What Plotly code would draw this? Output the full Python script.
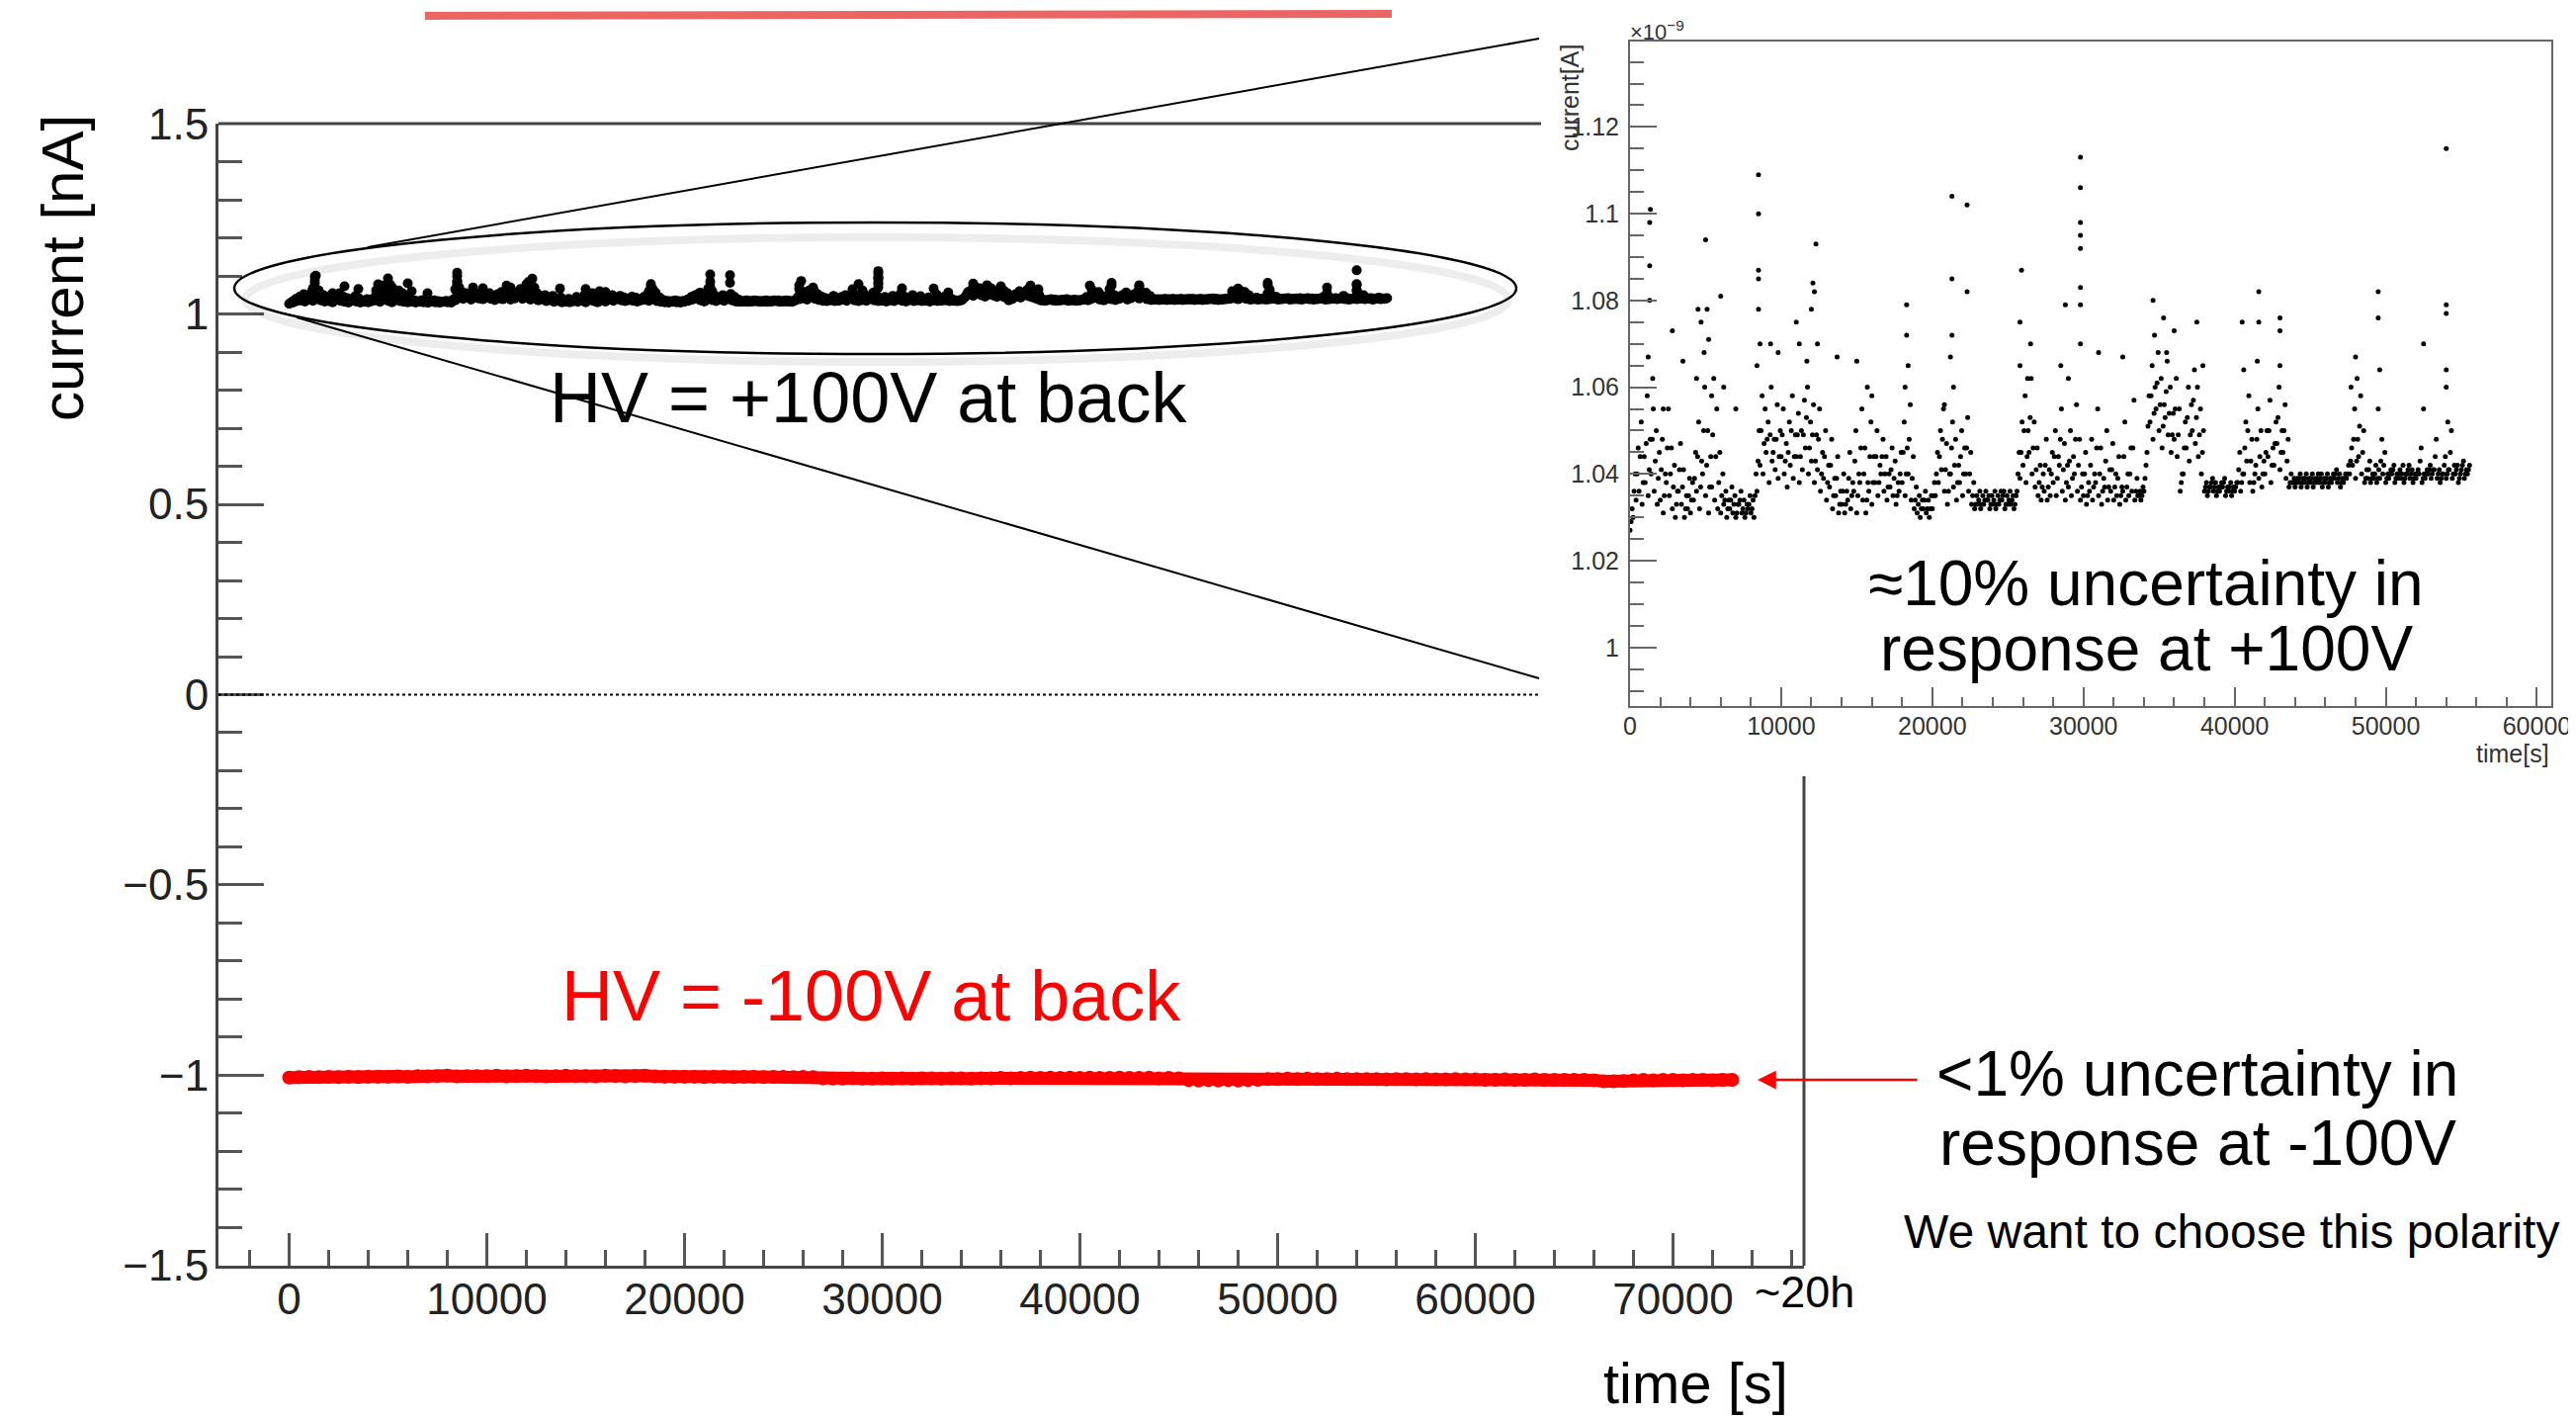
import numpy as np
import plotly.graph_objects as go

# page is drawn with the browser's default 8 px body margin
PAGE_W, PAGE_H, BODY = 2606, 1433, 8
W, H = PAGE_W - BODY, PAGE_H - BODY
FONT = "Liberation Sans, Arial, Helvetica, sans-serif"

# ---------------- data ----------------
# HV = +100 V at back : current in nA (inset shows the same run in units of 1e-9 A)
POS_STEP_S = 200
pos_band_low = [
    1.027, 1.030, 1.034, 1.036, 1.033, 1.038, 1.035, 1.040, 1.036, 1.033,
    1.034, 1.031, 1.038, 1.035, 1.032, 1.030, 1.036, 1.033, 1.030, 1.032,
    1.031, 1.034, 1.036, 1.032, 1.040, 1.035, 1.031, 1.037, 1.034, 1.032,
    1.031, 1.033, 1.030, 1.032, 1.031, 1.030, 1.033, 1.031, 1.030, 1.032,
    1.031, 1.030, 1.036, 1.042, 1.040, 1.045, 1.038, 1.043, 1.041, 1.039,
    1.044, 1.040, 1.037, 1.042, 1.039, 1.044, 1.038, 1.041, 1.046, 1.040,
    1.043, 1.038, 1.041, 1.036, 1.039, 1.034, 1.037, 1.032, 1.035, 1.031,
    1.033, 1.031, 1.034, 1.032, 1.036, 1.031, 1.038, 1.034, 1.031, 1.036,
    1.033, 1.038, 1.035, 1.040, 1.036, 1.034, 1.037, 1.035, 1.033, 1.036,
    1.038, 1.035, 1.040, 1.034, 1.032, 1.031, 1.030, 1.032, 1.031, 1.030,
    1.032, 1.035, 1.038, 1.041, 1.036, 1.033, 1.040, 1.037, 1.034, 1.038,
    1.035, 1.040, 1.036, 1.033, 1.032, 1.033, 1.032, 1.033, 1.034, 1.032,
    1.033, 1.032, 1.033, 1.034, 1.032, 1.033, 1.033, 1.032, 1.036, 1.039,
    1.042, 1.038, 1.045, 1.040, 1.037, 1.035, 1.034, 1.036, 1.034, 1.035,
    1.038, 1.035, 1.042, 1.036, 1.034, 1.037, 1.035, 1.040, 1.036, 1.034,
    1.035, 1.033, 1.036, 1.034, 1.038, 1.035, 1.033, 1.037, 1.034, 1.036,
    1.034, 1.035, 1.033, 1.036, 1.034, 1.035, 1.036, 1.034, 1.035, 1.034,
    1.036, 1.045, 1.052, 1.048, 1.055, 1.050, 1.046, 1.053, 1.049, 1.045,
    1.048, 1.044, 1.036, 1.040, 1.046, 1.043, 1.050, 1.047, 1.044, 1.040,
    1.036, 1.035, 1.037, 1.036, 1.035, 1.036, 1.037, 1.035, 1.036, 1.035,
    1.036, 1.038, 1.036, 1.040, 1.043, 1.038, 1.036, 1.042, 1.039, 1.037,
    1.040, 1.044, 1.038, 1.042, 1.047, 1.041, 1.045, 1.039, 1.037, 1.038,
    1.037, 1.038, 1.037, 1.038, 1.037, 1.038, 1.037, 1.038, 1.038, 1.037,
    1.038, 1.037, 1.038, 1.039, 1.038, 1.037, 1.038, 1.039, 1.040, 1.042,
    1.039, 1.044, 1.040, 1.038, 1.039, 1.038, 1.039, 1.038, 1.039, 1.040,
    1.038, 1.039, 1.040, 1.038, 1.039, 1.039, 1.038, 1.040, 1.039, 1.038,
    1.039, 1.040, 1.038, 1.039, 1.040, 1.039, 1.041, 1.039, 1.038, 1.040,
    1.039, 1.041, 1.039, 1.040, 1.038, 1.041, 1.039, 1.040,
]
pos_band_mid = [
    1.029, 1.036, 1.040, 1.044, 1.038, 1.047, 1.041, 1.048, 1.043, 1.039,
    1.041, 1.035, 1.046, 1.040, 1.037, 1.033, 1.041, 1.037, 1.032, 1.035,
    1.034, 1.039, 1.044, 1.037, 1.050, 1.042, 1.037, 1.049, 1.044, 1.038,
    1.035, 1.034, 1.032, 1.034, 1.033, 1.031, 1.034, 1.032, 1.031, 1.033,
    1.032, 1.035, 1.043, 1.050, 1.047, 1.048, 1.049, 1.045, 1.048, 1.044,
    1.049, 1.043, 1.045, 1.050, 1.044, 1.049, 1.044, 1.049, 1.053, 1.046,
    1.049, 1.043, 1.048, 1.040, 1.044, 1.038, 1.042, 1.035, 1.039, 1.033,
    1.036, 1.033, 1.039, 1.035, 1.043, 1.035, 1.046, 1.040, 1.034, 1.044,
    1.038, 1.044, 1.038, 1.044, 1.040, 1.037, 1.041, 1.039, 1.035, 1.040,
    1.045, 1.040, 1.048, 1.039, 1.034, 1.033, 1.032, 1.034, 1.032, 1.032,
    1.035, 1.040, 1.044, 1.048, 1.041, 1.036, 1.046, 1.042, 1.038, 1.044,
    1.040, 1.046, 1.040, 1.035, 1.033, 1.034, 1.033, 1.034, 1.034, 1.033,
    1.034, 1.033, 1.034, 1.035, 1.033, 1.034, 1.034, 1.033, 1.040, 1.045,
    1.050, 1.044, 1.053, 1.046, 1.041, 1.038, 1.037, 1.042, 1.037, 1.040,
    1.044, 1.039, 1.048, 1.041, 1.038, 1.043, 1.039, 1.048, 1.042, 1.037,
    1.040, 1.035, 1.042, 1.037, 1.046, 1.040, 1.036, 1.043, 1.037, 1.041,
    1.037, 1.039, 1.035, 1.044, 1.037, 1.040, 1.046, 1.036, 1.035, 1.035,
    1.039, 1.051, 1.058, 1.054, 1.061, 1.056, 1.051, 1.059, 1.054, 1.049,
    1.055, 1.049, 1.038, 1.046, 1.053, 1.049, 1.057, 1.053, 1.049, 1.045,
    1.037, 1.036, 1.038, 1.037, 1.036, 1.037, 1.038, 1.036, 1.037, 1.036,
    1.037, 1.041, 1.038, 1.046, 1.050, 1.043, 1.038, 1.048, 1.044, 1.040,
    1.045, 1.050, 1.042, 1.047, 1.053, 1.045, 1.050, 1.043, 1.038, 1.038,
    1.038, 1.039, 1.038, 1.039, 1.038, 1.039, 1.038, 1.039, 1.039, 1.038,
    1.039, 1.038, 1.039, 1.040, 1.039, 1.038, 1.039, 1.040, 1.043, 1.048,
    1.043, 1.051, 1.045, 1.039, 1.041, 1.039, 1.040, 1.039, 1.043, 1.042,
    1.039, 1.040, 1.041, 1.039, 1.040, 1.040, 1.039, 1.041, 1.040, 1.039,
    1.040, 1.043, 1.039, 1.040, 1.041, 1.040, 1.044, 1.040, 1.039, 1.042,
    1.040, 1.045, 1.040, 1.041, 1.039, 1.042, 1.040, 1.041,
]
pos_band_high = [
    1.032, 1.040, 1.046, 1.052, 1.044, 1.058, 1.048, 1.055, 1.050, 1.045,
    1.048, 1.040, 1.055, 1.046, 1.042, 1.036, 1.047, 1.041, 1.035, 1.039,
    1.038, 1.045, 1.052, 1.043, 1.060, 1.050, 1.044, 1.062, 1.055, 1.045,
    1.040, 1.036, 1.034, 1.037, 1.035, 1.033, 1.036, 1.034, 1.033, 1.035,
    1.034, 1.040, 1.050, 1.058, 1.055, 1.052, 1.060, 1.048, 1.056, 1.050,
    1.055, 1.047, 1.052, 1.058, 1.049, 1.054, 1.050, 1.057, 1.060, 1.052,
    1.056, 1.049, 1.055, 1.045, 1.050, 1.042, 1.048, 1.039, 1.044, 1.036,
    1.040, 1.036, 1.045, 1.038, 1.050, 1.040, 1.055, 1.046, 1.038, 1.052,
    1.044, 1.050, 1.042, 1.048, 1.044, 1.040, 1.046, 1.043, 1.038, 1.045,
    1.052, 1.046, 1.056, 1.044, 1.037, 1.035, 1.034, 1.036, 1.034, 1.035,
    1.038, 1.045, 1.050, 1.055, 1.047, 1.040, 1.052, 1.048, 1.042, 1.050,
    1.046, 1.053, 1.045, 1.038, 1.035, 1.036, 1.035, 1.036, 1.035, 1.035,
    1.036, 1.035, 1.036, 1.036, 1.035, 1.036, 1.035, 1.035, 1.045, 1.052,
    1.058, 1.050, 1.062, 1.052, 1.046, 1.042, 1.040, 1.048, 1.041, 1.045,
    1.050, 1.044, 1.055, 1.047, 1.042, 1.050, 1.044, 1.056, 1.048, 1.040,
    1.045, 1.038, 1.048, 1.040, 1.055, 1.046, 1.039, 1.050, 1.041, 1.047,
    1.040, 1.044, 1.037, 1.052, 1.040, 1.046, 1.057, 1.039, 1.036, 1.037,
    1.042, 1.058, 1.065, 1.060, 1.068, 1.062, 1.056, 1.066, 1.060, 1.054,
    1.062, 1.055, 1.040, 1.052, 1.060, 1.056, 1.064, 1.060, 1.055, 1.050,
    1.038, 1.037, 1.039, 1.038, 1.037, 1.038, 1.039, 1.037, 1.038, 1.037,
    1.038, 1.045, 1.040, 1.052, 1.058, 1.048, 1.040, 1.055, 1.050, 1.043,
    1.050, 1.057, 1.046, 1.052, 1.060, 1.050, 1.056, 1.048, 1.040, 1.039,
    1.039, 1.040, 1.039, 1.040, 1.039, 1.040, 1.039, 1.040, 1.040, 1.039,
    1.040, 1.039, 1.040, 1.041, 1.040, 1.039, 1.040, 1.042, 1.046, 1.055,
    1.048, 1.058, 1.050, 1.041, 1.043, 1.040, 1.042, 1.041, 1.048, 1.045,
    1.040, 1.041, 1.042, 1.040, 1.041, 1.042, 1.040, 1.042, 1.041, 1.040,
    1.041, 1.046, 1.040, 1.041, 1.042, 1.041, 1.048, 1.041, 1.040, 1.044,
    1.041, 1.050, 1.042, 1.042, 1.040, 1.043, 1.041, 1.042,
]
pos_spike_t = [
    1200, 1300, 1300, 1300, 1350, 1500, 2200, 2800, 3500, 4400, 4500, 4700,
    4900, 5000, 5100, 5200, 5400, 6000, 6200, 7000, 8400, 8500, 8500, 8500,
    8500, 8500, 8600, 9300, 9800, 11000, 11200, 11700, 12000, 12100, 12200,
    12300, 12400, 13700, 15000, 15700, 16000, 18300, 18300, 18400, 18200,
    20800, 21200, 21300, 21300, 21300, 21400, 22300, 22300, 25800, 25800,
    25900, 26300, 26500, 28500, 28800, 29000, 29800, 29800, 29800, 29800,
    29800, 29800, 29800, 29800, 31000, 32600, 34600, 34700, 35300, 35500,
    36000, 37500, 37900, 40500, 40600, 41600, 41600, 41500, 43000, 43000,
    43000, 47700, 48000, 48100, 49500, 49500, 49600, 49500, 52500, 52500,
    54000, 54000, 54000, 54000, 54000, 54100,
]
pos_spike_i = [
    1.067, 1.080, 1.088, 1.098, 1.101, 1.062, 1.055, 1.073, 1.066, 1.062, 1.078, 1.075,
    1.068, 1.094, 1.078, 1.071, 1.058, 1.081, 1.060, 1.055, 1.065, 1.078, 1.085, 1.087,
    1.100, 1.109, 1.070, 1.070, 1.068, 1.075, 1.070, 1.066, 1.078, 1.084, 1.082,
    1.093, 1.070, 1.067, 1.066, 1.060, 1.058, 1.079, 1.072, 1.065, 1.060,
    1.056, 1.067, 1.072, 1.085, 1.104, 1.060, 1.082, 1.102, 1.065, 1.075,
    1.087, 1.062, 1.070, 1.065, 1.079, 1.062, 1.070, 1.079, 1.083, 1.092,
    1.095, 1.098, 1.106, 1.113, 1.068, 1.067, 1.080, 1.072, 1.076, 1.068,
    1.073, 1.075, 1.065, 1.075, 1.064, 1.082, 1.075, 1.066, 1.065, 1.073,
    1.076, 1.060, 1.067, 1.062, 1.082, 1.076, 1.064, 1.055, 1.070, 1.055,
    1.115, 1.079, 1.077, 1.064, 1.060, 1.052,
]

# HV = -100 V at back : current in nA, one reading every 500 s
NEG_STEP_S = 500
neg_current = [
    -1.006, -1.005, -1.004, -1.005, -1.004, -1.005, -1.004, -1.005, -1.004, -1.004,
    -1.004, -1.003, -1.004, -1.002, -1.003, -1.002, -1.001, -1.003, -1.002, -1.002,
    -1.002, -1.001, -1.003, -1.002, -1.001, -1.002, -1.003, -1.002, -1.001, -1.002,
    -1.002, -1.003, -1.001, -1.002, -1.003, -1.002, -1.001, -1.003, -1.004, -1.004,
    -1.004, -1.004, -1.005, -1.004, -1.004, -1.005, -1.004, -1.004, -1.005, -1.004,
    -1.004, -1.005, -1.004, -1.005, -1.008, -1.009, -1.009, -1.008, -1.009, -1.009,
    -1.008, -1.009, -1.008, -1.009, -1.008, -1.008, -1.009, -1.008, -1.008, -1.009,
    -1.008, -1.008, -1.007, -1.008, -1.007, -1.006, -1.007, -1.006, -1.007, -1.006,
    -1.007, -1.006, -1.007, -1.007, -1.006, -1.007, -1.007, -1.006, -1.008, -1.007,
    -1.008, -1.013, -1.014, -1.013, -1.014, -1.013, -1.014, -1.013, -1.012, -1.010,
    -1.010, -1.009, -1.010, -1.009, -1.010, -1.010, -1.009, -1.010, -1.010, -1.010,
    -1.010, -1.011, -1.010, -1.010, -1.011, -1.010, -1.011, -1.011, -1.010, -1.011,
    -1.011, -1.012, -1.012, -1.011, -1.012, -1.012, -1.011, -1.012, -1.012, -1.012,
    -1.012, -1.012, -1.013, -1.016, -1.016, -1.015, -1.013, -1.012, -1.013, -1.012,
    -1.012, -1.013, -1.012, -1.012, -1.013, -1.012, -1.012,
]

# axis settings
MAIN_X_RANGE = [-3575, 76625]
MAIN_Y_RANGE = [-1.5005, 1.5005]
INSET_X_RANGE = [0, 60950]
INSET_Y_RANGE = [0.9865, 1.1397]

# ---------------- assemble ----------------
t_low = np.arange(len(pos_band_low)) * POS_STEP_S
t_mid = np.arange(len(pos_band_mid)) * POS_STEP_S + 70
t_high = np.arange(len(pos_band_high)) * POS_STEP_S + 140
pos_t = np.concatenate([t_low, t_mid, t_high, np.array(pos_spike_t, float)])
pos_i = np.concatenate([pos_band_low, pos_band_mid, pos_band_high, pos_spike_i])
neg_t = np.arange(len(neg_current)) * NEG_STEP_S


def PX(x):
    """page pixel (x) -> paper fraction"""
    return (x - BODY) / W


def PY(y):
    """page pixel (y) -> paper fraction"""
    return 1 - (y - BODY) / H


fig = go.Figure()

# main chart
fig.add_trace(go.Scatter(
    x=neg_t, y=neg_current, mode="lines+markers",
    line=dict(color="#ff0000", width=13),
    marker=dict(color="#ff0000", size=14),
    xaxis="x", yaxis="y", showlegend=False, hoverinfo="skip"))
fig.add_trace(go.Scatter(
    x=pos_t, y=pos_i, mode="markers",
    marker=dict(color="black", size=10, line=dict(width=0)),
    xaxis="x", yaxis="y", showlegend=False, hoverinfo="skip"))

# inset
fig.add_trace(go.Scatter(
    x=pos_t, y=pos_i, mode="markers",
    marker=dict(color="black", size=5, line=dict(width=0)),
    xaxis="x2", yaxis="y2", showlegend=False, hoverinfo="skip"))

AX_COL = "#444444"
TICK_FONT = dict(family=FONT, size=44, color="#222222")
INSET_FONT = dict(family=FONT, size=25, color="#333333")

fig.update_layout(
    template="none",
    width=W, height=H, autosize=False,
    margin=dict(l=0, r=0, t=0, b=0, pad=0, autoexpand=False),
    paper_bgcolor="white", plot_bgcolor="white",
    showlegend=False,
    xaxis=dict(
        domain=[PX(221), PX(1825)], range=MAIN_X_RANGE, anchor="y", automargin=False,
        showgrid=False, zeroline=False, showline=True, linecolor=AX_COL, linewidth=3,
        ticks="inside", ticklen=33, tickwidth=3, tickcolor="#555555",
        dtick=10000, tick0=0, tickformat="d", tickfont=TICK_FONT, ticklabelstandoff=-7,
        minor=dict(ticks="inside", dtick=2000, tick0=0, ticklen=16, tickwidth=3,
                   tickcolor="#555555", showgrid=False),
    ),
    yaxis=dict(
        domain=[PY(1280), PY(125)], range=MAIN_Y_RANGE, anchor="x", automargin=False,
        showgrid=False, zeroline=False, showline=True, linecolor=AX_COL, linewidth=3,
        ticks="inside", ticklen=46, tickwidth=3, tickcolor="#555555",
        dtick=0.5, tick0=0, tickfont=TICK_FONT, ticklabelstandoff=-2,
        minor=dict(ticks="inside", dtick=0.1, tick0=0, ticklen=24, tickwidth=3,
                   tickcolor="#555555", showgrid=False),
    ),
    xaxis2=dict(
        domain=[PX(1649), PX(2581)], range=INSET_X_RANGE, anchor="y2", automargin=False,
        showgrid=False, zeroline=False, showline=True, mirror=True,
        linecolor="#666666", linewidth=2,
        ticks="inside", ticklen=19, tickwidth=2, tickcolor="#666666",
        dtick=10000, tick0=0, tickformat="d", tickfont=INSET_FONT, ticklabelstandoff=-3,
        minor=dict(ticks="inside", dtick=2000, tick0=0, ticklen=9, tickwidth=2,
                   tickcolor="#666666", showgrid=False),
    ),
    yaxis2=dict(
        domain=[PY(714), PY(42)], range=INSET_Y_RANGE, anchor="x2", automargin=False,
        showgrid=False, zeroline=False, showline=True, mirror=True,
        linecolor="#666666", linewidth=2,
        ticks="inside", ticklen=27, tickwidth=2, tickcolor="#666666",
        dtick=0.02, tick0=1, tickfont=INSET_FONT, ticklabelstandoff=4,
        minor=dict(ticks="inside", dtick=0.005, tick0=1, ticklen=14, tickwidth=2,
                   tickcolor="#666666", showgrid=False),
    ),
)

shapes = [
    # partial frame of the main chart (hidden behind the inset on the right)
    dict(type="line", xref="paper", yref="paper", x0=PX(221), x1=PX(1559),
         y0=PY(125), y1=PY(125), line=dict(color=AX_COL, width=3)),
    dict(type="line", xref="paper", yref="paper", x0=PX(1825), x1=PX(1825),
         y0=PY(785), y1=PY(1280), line=dict(color=AX_COL, width=3)),
    # dotted zero line
    dict(type="line", xref="paper", yref="y", x0=PX(221), x1=PX(1559),
         y0=0, y1=0, line=dict(color="black", width=2, dash="dot")),
    # soft shadow under the ellipse + ellipse
    dict(type="circle", xref="paper", yref="paper", x0=PX(248), x1=PX(1526),
         y0=PY(366), y1=PY(240), line=dict(color="rgba(0,0,0,0.07)", width=8)),
    dict(type="circle", xref="paper", yref="paper", x0=PX(237), x1=PX(1534),
         y0=PY(358), y1=PY(225), line=dict(color="black", width=2.5)),
    # zoom lines
    dict(type="line", xref="paper", yref="paper", x0=PX(372), y0=PY(250),
         x1=PX(1557), y1=PY(39), line=dict(color="black", width=2)),
    dict(type="line", xref="paper", yref="paper", x0=PX(300), y0=PY(321),
         x1=PX(1557), y1=PY(686), line=dict(color="black", width=2)),
    # red strike at the top
    dict(type="line", xref="paper", yref="paper", x0=PX(430), y0=PY(16),
         x1=PX(1408), y1=PY(14), line=dict(color="rgba(234,84,84,0.9)", width=8)),
]
fig.update_layout(shapes=shapes)


def txt(text, x, y, size, color="black", xanchor="center", yanchor="middle", angle=0):
    return dict(text=text, x=PX(x), y=PY(y), xref="paper", yref="paper",
                showarrow=False, xanchor=xanchor, yanchor=yanchor, textangle=angle,
                font=dict(family=FONT, size=size, color=color))


annotations = [
    txt("current [nA]", 63, 271, 60, angle=-90),
    txt("time [s]", 1715, 1398, 58),
    txt("~20h", 1825, 1306, 45),
    txt("HV = +100V at back", 878, 402, 72),
    txt("HV = -100V at back", 881, 1007, 72, color="#ff0000"),
    txt("≈10% uncertainty in", 2171, 590, 64),
    txt("response at +100V", 2171, 656, 64),
    txt("<1% uncertainty in", 2223, 1086, 64),
    txt("response at -100V", 2223, 1156, 64),
    txt("We want to choose this polarity", 2257, 1245, 48),
    # inset labels
    dict(text="current[A]", x=PX(1588), y=PY(43), xref="paper", yref="paper",
         showarrow=False, xanchor="center", yanchor="top", textangle=-90,
         font=dict(family=FONT, size=25, color="#333333")),
    txt("×10<sup>−9</sup>", 1647, 31, 22, color="#333333", xanchor="left"),
    txt("time[s]", 2581, 762, 25, color="#333333", xanchor="right"),
    # red arrow
    dict(text="", x=PX(1778), y=PY(1092), xref="paper", yref="paper",
         showarrow=True, ax=163, ay=0, arrowhead=2, arrowsize=1.5,
         arrowwidth=2.5, arrowcolor="#ff0000"),
]
fig.update_layout(annotations=annotations)

fig.write_html("out.html")
